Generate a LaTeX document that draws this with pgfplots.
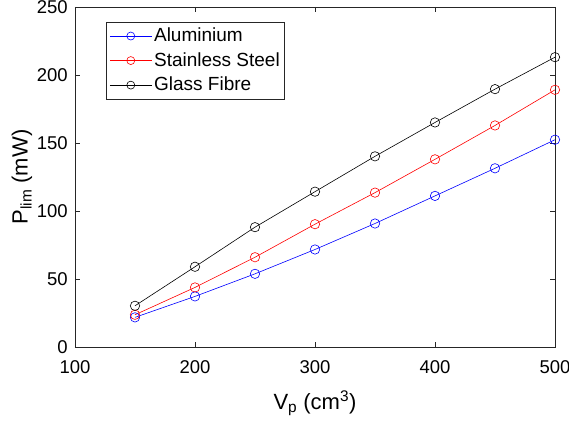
\documentclass[border=0pt]{standalone}
\usepackage{fontspec}
\setmainfont{Liberation Sans}
\usepackage{pgfplots}
\pgfplotsset{compat=1.18}
\usetikzlibrary{calc}
\begin{document}
\fontsize{18.5}{22}\selectfont
\begin{tikzpicture}
\begin{axis}[
  name=ax,
  scale only axis,
  width=480pt, height=340pt,
  xmin=100, xmax=500, ymin=0, ymax=250,
  xtick={100,200,...,500}, ytick={0,50,...,250},
  tick align=inside,
  major tick length=5pt,
  axis line style={draw=black!85},
  every tick/.style={black!85},
  /pgf/number format/assume math mode=true,
  ticklabel style={font=\fontsize{18.5}{22}\selectfont},
  xticklabel style={yshift=-7pt},
  yticklabel style={xshift=-1pt},
  xlabel={V\textsubscript{p} (cm\textsuperscript{3})},
  ylabel={P\textsubscript{lim} (mW)},
  label style={font=\fontsize{22}{26}\selectfont},
  xlabel style={yshift=-5pt},
  ylabel style={yshift=-8pt},
  legend style={at={(0.065,0.956)}, anchor=north west, font=\fontsize{19}{22}\selectfont,
    draw=black!85, line width=0.6pt, inner xsep=3pt, inner ysep=3.5pt, row sep=4pt},
  legend cell align=left,
  legend image code/.code={\draw[#1] (0pt,0pt) -- (42pt,0pt); \draw[#1, mark size=4pt] plot coordinates {(21pt,0pt)};},
  every axis plot/.append style={line width=0.6pt, mark=o, mark size=4.7pt},
]
\addplot[blue] coordinates {(150,21.8) (200,37.2) (250,53.8) (300,71.7) (350,90.8) (400,111.1) (450,131.4) (500,152.4)};
\addlegendentry{Aluminium}
\addplot[red] coordinates {(150,23.7) (200,43.8) (250,66.0) (300,90.3) (350,113.5) (400,138.0) (450,162.9) (500,189.1)};
\addlegendentry{Stainless Steel}
\addplot[black] coordinates {(150,30.3) (200,59.0) (250,88.1) (300,114.2) (350,140.2) (400,165.1) (450,189.6) (500,213.1)};
\addlegendentry{Glass Fibre}
\end{axis}
\pgfresetboundingbox
\path ($(ax.south west)+(-75pt,-82pt)$) rectangle ($(ax.north east)+(14pt,7pt)$);
\end{tikzpicture}
\end{document}
